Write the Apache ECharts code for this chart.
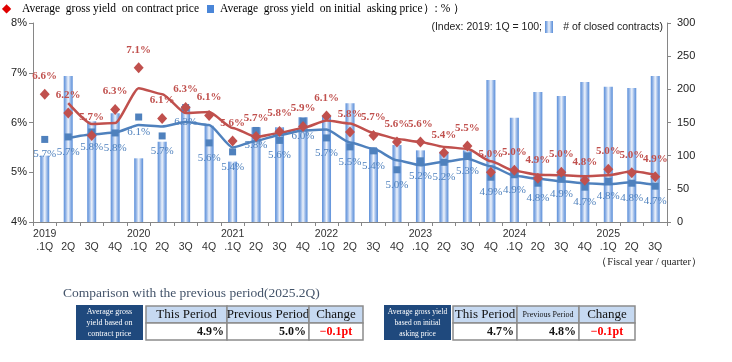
<!DOCTYPE html>
<html>
<head>
<meta charset="utf-8">
<script src="https://cdn.jsdelivr.net/npm/echarts@6/dist/echarts.min.js"></script>
<style>
html,body{margin:0;padding:0;background:#fff;}
#chart{width:732px;height:362px;}
</style>
</head>
<body>
<div id="chart"></div>
<script>
// ---- data ----
const categories = ['2019\n.1Q','\n2Q','\n3Q','\n4Q','2020\n.1Q','\n2Q','\n3Q','\n4Q','2021\n.1Q','\n2Q','\n3Q','\n4Q','2022\n.1Q','\n2Q','\n3Q','\n4Q','2023\n.1Q','\n2Q','\n3Q','\n4Q','2024\n.1Q','\n2Q','\n3Q','\n4Q','2025\n.1Q','\n2Q','\n3Q'];
const contractYield = [6.57,6.19,5.74,6.26,7.10,6.08,6.30,6.14,5.63,5.72,5.82,5.92,6.13,5.81,5.74,5.61,5.61,5.39,5.53,5.00,5.04,4.88,5.00,4.84,5.06,4.99,4.91];
const askingYield = [5.66,5.71,5.81,5.79,6.11,5.73,6.30,5.59,5.41,5.84,5.64,6.03,5.69,5.51,5.43,5.05,5.23,5.20,5.33,4.90,4.95,4.78,4.86,4.70,4.82,4.78,4.72];
const contractAvg = ['-',6.39,5.97,5.99,6.69,6.57,6.19,6.21,5.89,5.71,5.79,5.89,6.04,5.98,5.79,5.67,5.61,5.51,5.47,5.22,5.03,4.95,4.94,4.92,4.94,5.02,4.95];
const askingAvg = ['-',5.69,5.76,5.80,5.95,5.92,6.01,5.95,5.50,5.63,5.75,5.84,5.86,5.60,5.47,5.24,5.14,5.21,5.27,5.12,4.93,4.87,4.82,4.78,4.76,4.80,4.75];
const contracts = [100,220,152,164,96,121,175,145,91,143,143,158,160,179,111,116,108,106,108,214,157,196,190,211,204,202,220];
const contractLabels = ['6.6%','6.2%','5.7%','6.3%','7.1%','6.1%','6.3%','6.1%','5.6%','5.7%','5.8%','5.9%','6.1%','5.8%','5.7%','5.6%','5.6%','5.4%','5.5%','5.0%','5.0%','4.9%','5.0%','4.8%','5.0%','5.0%','4.9%'];
const askingLabels = ['5.7%','5.7%','5.8%','5.8%','6.1%','5.7%','6.3%','5.6%','5.4%','5.8%','5.6%','6.0%','5.7%','5.5%','5.4%','5.0%','5.2%','5.2%','5.3%','4.9%','4.9%','4.8%','4.9%','4.7%','4.8%','4.8%','4.7%'];
const table1 = {title:['Average gross','yield based on','contract price'], thisP:'4.9%', prevP:'5.0%', change:'−0.1pt'};
const table2 = {title:['Average gross yield','based on initial','asking price'], thisP:'4.7%', prevP:'4.8%', change:'−0.1pt'};

// ---- styles ----
const RED = '#c0504d', BLUE = '#4f81bd', AXIS = '#868686';
const SERIF = '"Liberation Serif","DejaVu Serif",serif';
const SANS = '"Liberation Sans",Arial,sans-serif';
const barGrad = new echarts.graphic.LinearGradient(0,0,1,0,[
  {offset:0,color:'#5b8fd9'},{offset:0.22,color:'#8fb2e6'},{offset:0.5,color:'#eef3fb'},{offset:0.78,color:'#8fb2e6'},{offset:1,color:'#5b8fd9'}]);

const chart = echarts.init(document.getElementById('chart'));

function tableGraphics(t, x0, cols, smallPrev, titleSize){
  const els = [];
  els.push({type:'rect', shape:{x:x0, y:305, width:67, height:35}, style:{fill:'#1f497d'}});
  t.title.forEach((s,i)=>els.push({type:'text', x:x0+33.5, y:312+i*11, style:{text:s, fill:'#fff', font:titleSize+'px '+SERIF, align:'center', verticalAlign:'middle'}}));
  const heads = ['This Period','Previous Period','Change'];
  for(let i=0;i<3;i++){
    const a = cols[i], b = cols[i+1];
    els.push({type:'rect', shape:{x:a, y:306, width:b-a, height:17}, style:{fill:'#c6d9f1', stroke:'#8c8c8c', lineWidth:1.5}});
    els.push({type:'rect', shape:{x:a, y:323, width:b-a, height:17}, style:{fill:'#fff', stroke:'#8c8c8c', lineWidth:1.5}});
    const fs = (i===1 && smallPrev) ? 8 : 13;
    els.push({type:'text', x:(a+b)/2, y:315, style:{text:heads[i], fill:'#111', font:fs+'px '+SERIF, align:'center', verticalAlign:'middle'}});
  }
  els.push({type:'text', x:cols[1]-3, y:332, style:{text:t.thisP, fill:'#111', font:'bold 12px '+SERIF, align:'right', verticalAlign:'middle'}});
  els.push({type:'text', x:cols[2]-3, y:332, style:{text:t.prevP, fill:'#111', font:'bold 12px '+SERIF, align:'right', verticalAlign:'middle'}});
  els.push({type:'text', x:(cols[2]+cols[3])/2, y:332, style:{text:t.change, fill:'#ff0000', font:'bold 12px '+SERIF, align:'center', verticalAlign:'middle'}});
  return els;
}

const graphics = [
  {type:'text', x:2, y:9, style:{text:'◆', fill:'#e00000', font:'12px '+SANS, verticalAlign:'middle'}},
  {type:'text', x:22, y:9, style:{text:'Average  gross yield  on contract price', fill:'#000', font:'11.5px '+SERIF, verticalAlign:'middle'}},
  {type:'rect', shape:{x:207, y:5, width:7, height:8}, style:{fill:'#4a86d8'}},
  {type:'text', x:220, y:9, style:{text:'Average  gross yield  on initial  asking price）: % ）', fill:'#000', font:'11.5px '+SERIF, verticalAlign:'middle'}},
  {type:'text', x:542, y:27, style:{text:'(Index: 2019: 1Q = 100;', fill:'#222', font:'10.5px '+SANS, align:'right', verticalAlign:'middle'}},
  {type:'rect', shape:{x:545, y:21, width:8, height:12}, style:{fill:barGrad}},
  {type:'text', x:663, y:27, style:{text:'# of closed contracts)', fill:'#222', font:'10.5px '+SANS, align:'right', verticalAlign:'middle'}},
  {type:'text', x:702, y:262, style:{text:'（Fiscal year / quarter）', fill:'#222', font:'10.5px '+SERIF, align:'right', verticalAlign:'middle'}},
  {type:'text', x:63, y:293, style:{text:'Comparison with the previous period(2025.2Q)', fill:'#44546a', font:'13.5px '+SERIF, verticalAlign:'middle'}}
].concat(tableGraphics(table1, 76, [146,227,309,363], false, 8))
 .concat(tableGraphics(table2, 384, [453,517,579,635], true, 7.5));

const option = {
  animation:false,
  backgroundColor:'#fff',
  grid:{left:33, right:65, top:23, bottom:140, containLabel:false},
  xAxis:{
    type:'category', data:categories, boundaryGap:true,
    axisLine:{lineStyle:{color:AXIS, width:1}},
    axisTick:{show:true, interval:0, alignWithLabel:false, length:4, lineStyle:{color:AXIS}},
    axisLabel:{interval:0, color:'#333', fontFamily:SANS, fontSize:10.5, lineHeight:13, margin:6}
  },
  yAxis:[
    {type:'value', min:4, max:8, interval:1, position:'left',
     axisLine:{show:true, lineStyle:{color:AXIS}}, axisTick:{show:true, length:4, lineStyle:{color:AXIS}},
     splitLine:{show:false},
     axisLabel:{formatter:'{value}%', color:'#222', fontFamily:SANS, fontSize:11, margin:6}},
    {type:'value', min:0, max:300, interval:50, position:'right',
     axisLine:{show:true, lineStyle:{color:AXIS}}, axisTick:{show:true, length:4, lineStyle:{color:AXIS}},
     splitLine:{show:false},
     axisLabel:{color:'#222', fontFamily:SANS, fontSize:11, margin:10}}
  ],
  series:[
    {type:'bar', yAxisIndex:1, data:contracts, barWidth:9, itemStyle:{color:barGrad}, z:1},
    {type:'line', yAxisIndex:0, data:contractAvg, symbol:'none', smooth:0.2, smoothMonotone:'x', lineStyle:{color:RED, width:2.5}, z:3},
    {type:'line', yAxisIndex:0, data:askingAvg, symbol:'none', smooth:0.2, smoothMonotone:'x', lineStyle:{color:BLUE, width:2.5}, z:3},
    {type:'scatter', yAxisIndex:0, data:contractYield, symbol:'diamond', symbolSize:[10,11],
     itemStyle:{color:RED, opacity:1}, z:5,
     label:{show:true, position:'top', distance:7, color:RED, fontFamily:SERIF, fontSize:11, fontWeight:'bold',
       formatter:p=>contractLabels[p.dataIndex]}},
    {type:'scatter', yAxisIndex:0, data:askingYield, symbol:'rect', symbolSize:7,
     itemStyle:{color:BLUE, opacity:1}, z:4,
     label:{show:true, position:'bottom', distance:6, color:BLUE, fontFamily:SERIF, fontSize:11,
       formatter:p=>askingLabels[p.dataIndex]}}
  ],
  graphic:graphics
};
chart.setOption(option);
</script>
</body>
</html>
